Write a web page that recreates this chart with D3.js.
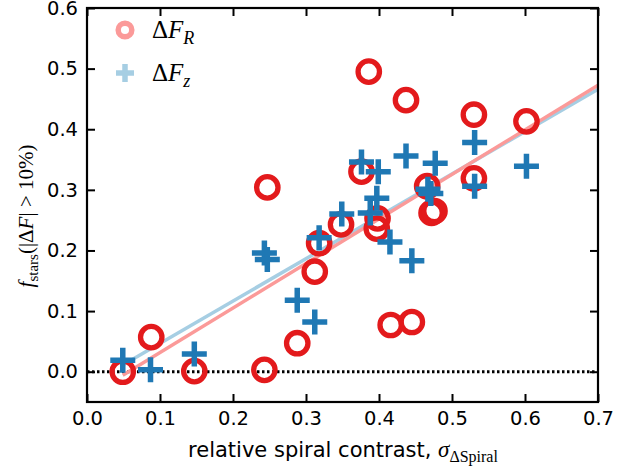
<!DOCTYPE html>
<html><head><meta charset="utf-8">
<script src="https://cdn.jsdelivr.net/npm/d3@7"></script>
<style>body{margin:0;background:#fff}svg{display:block}</style>
</head><body>
<svg id="c" width="644" height="469"></svg>
<script>
// ---- data ----
const xR = [0.049,0.088,0.147,0.243,0.247,0.288,0.312,0.318,0.348,0.386,0.376,0.398,0.397,0.416,0.445,0.437,0.466,0.472,0.476,0.530,0.530,0.602];
const yR = [0.000,0.057,0.001,0.003,0.304,0.047,0.165,0.212,0.243,0.495,0.330,0.253,0.236,0.077,0.082,0.448,0.306,0.262,0.265,0.424,0.319,0.413];
const xZ = [0.049,0.087,0.147,0.243,0.247,0.288,0.312,0.318,0.349,0.376,0.399,0.397,0.388,0.415,0.445,0.437,0.477,0.467,0.471,0.531,0.531,0.602];
const yZ = [0.019,0.003,0.029,0.196,0.185,0.118,0.082,0.221,0.260,0.346,0.330,0.286,0.262,0.214,0.183,0.356,0.344,0.301,0.294,0.378,0.306,0.339];
const fitX = [0.049, 0.70];
const fitR = [-0.006, 0.4725];
const fitZ = [0.011, 0.466];
const xTicks = [0.0,0.1,0.2,0.3,0.4,0.5,0.6,0.7];
const yTicks = [0.0,0.1,0.2,0.3,0.4,0.5,0.6];

const C = {darkRed:"#e31a1c", lightRed:"#fb9a99", darkBlue:"#1f78b4", lightBlue:"#a6cee3"};
const L = 87, R = 598, T = 8, B = 402;
const svg = d3.select("#c");
const x = d3.scaleLinear().domain([0,0.7]).range([L,R]);
const y = d3.scaleLinear().domain([-0.05,0.6]).range([B,T]);

// zero dotted line
svg.append("line").attr("x1",L).attr("x2",R).attr("y1",y(0)).attr("y2",y(0))
  .attr("stroke","#000").attr("stroke-width",3).attr("stroke-dasharray","2.5,2.5");

// fit lines
const line = d3.line().x(d=>x(d[0])).y(d=>y(d[1]));
svg.append("path").attr("d",line(d3.zip(fitX,fitZ))).attr("stroke",C.lightBlue).attr("stroke-width",3.5).attr("fill","none");
svg.append("path").attr("d",line(d3.zip(fitX,fitR))).attr("stroke",C.lightRed).attr("stroke-width",3.5).attr("fill","none");

// circles
svg.append("g").selectAll("circle").data(d3.zip(xR,yR)).join("circle")
  .attr("cx",d=>x(d[0])).attr("cy",d=>y(d[1])).attr("r",10.7)
  .attr("fill","none").attr("stroke",C.darkRed).attr("stroke-width",5.3);

// pluses
const plus = (s)=>`M${-s},0H${s}M0,${-s}V${s}`;
svg.append("g").selectAll("path").data(d3.zip(xZ,yZ)).join("path")
  .attr("transform",d=>`translate(${x(d[0])},${y(d[1])})`).attr("d",plus(12.5))
  .attr("stroke",C.darkBlue).attr("stroke-width",5.5).attr("fill","none");

// axes
const fnt = "DejaVu Sans";
const ax = (g)=>{g.select(".domain").remove(); g.selectAll("line").attr("stroke","#000").attr("stroke-width",2);
  g.selectAll("text").attr("font-family",fnt).attr("font-size",19.5).attr("fill","#000");};
svg.append("g").attr("transform",`translate(0,${B})`)
  .call(d3.axisBottom(x).tickValues(xTicks).tickFormat(d3.format(".1f")).tickSize(-8).tickPadding(9)).call(ax);
svg.append("g").attr("transform",`translate(0,${T})`)
  .call(d3.axisTop(x).tickValues(xTicks).tickFormat("").tickSize(-8)).call(ax);
svg.append("g").attr("transform",`translate(${L},0)`)
  .call(d3.axisLeft(y).tickValues(yTicks).tickFormat(d3.format(".1f")).tickSize(-8).tickPadding(9)).call(ax);
svg.append("g").attr("transform",`translate(${R},0)`)
  .call(d3.axisRight(y).tickValues(yTicks).tickFormat("").tickSize(-8)).call(ax);
svg.append("rect").attr("x",L).attr("y",T).attr("width",R-L).attr("height",B-T)
  .attr("fill","none").attr("stroke","#000").attr("stroke-width",2.2);

// x label
const xl = svg.append("text").attr("x",343).attr("y",457).attr("text-anchor","middle")
  .attr("font-family",fnt).attr("font-size",21);
xl.append("tspan").text("relative spiral contrast, ");
xl.append("tspan").attr("font-family","Liberation Serif").attr("font-style","italic").attr("font-size",23).text("σ");
xl.append("tspan").attr("font-family","Liberation Serif").attr("font-size",16).attr("dy",5).text("ΔSpiral");

// y label
const yl = svg.append("text").attr("transform","translate(33,216) rotate(-90)").attr("text-anchor","middle")
  .attr("font-family","Liberation Serif").attr("font-size",21);
yl.append("tspan").attr("font-style","italic").text("f");
yl.append("tspan").attr("font-size",15).attr("dy",5).text("stars");
yl.append("tspan").attr("dy",-5).text("(|Δ");
yl.append("tspan").attr("font-style","italic").text("F");
yl.append("tspan").text("| > 10%)");

// legend
const lg = svg.append("g");
lg.append("circle").attr("cx",125).attr("cy",30).attr("r",6.8).attr("fill","none")
  .attr("stroke",C.lightRed).attr("stroke-width",5.5);
lg.append("path").attr("transform","translate(125,73)").attr("d",plus(9)).attr("stroke",C.lightBlue)
  .attr("stroke-width",5.5).attr("fill","none");
const t1 = lg.append("text").attr("x",152).attr("y",38).attr("font-family","Liberation Serif").attr("font-size",25);
t1.append("tspan").text("Δ"); t1.append("tspan").attr("font-style","italic").text("F");
t1.append("tspan").attr("font-style","italic").attr("font-size",18).attr("dy",6).text("R");
const t2 = lg.append("text").attr("x",152).attr("y",81).attr("font-family","Liberation Serif").attr("font-size",25);
t2.append("tspan").text("Δ"); t2.append("tspan").attr("font-style","italic").text("F");
t2.append("tspan").attr("font-style","italic").attr("font-size",18).attr("dy",6).text("z");
</script>
</body></html>
